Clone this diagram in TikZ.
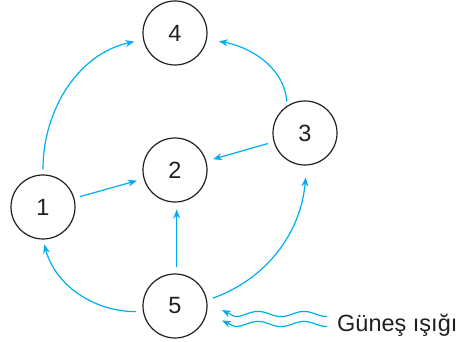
\documentclass[tikz,border=0pt]{standalone}
\usepackage{fontspec}
\setmainfont{Liberation Sans}
\usetikzlibrary{arrows.meta}
\definecolor{ray}{RGB}{0,174,239}
\definecolor{ink}{RGB}{35,31,32}
\begin{document}
\begin{tikzpicture}[x=1pt,y=1pt,
    state/.style={circle,draw=ink,line width=1.2pt,minimum size=64pt,inner sep=0pt,
      font=\fontsize{23.5}{28}\selectfont,text=ink},
    flow/.style={draw=ray,line width=1.2pt,-{Stealth[length=9pt,width=7pt]},
      shorten <=6pt,shorten >=7pt},
    wave/.style={draw=ray,line width=1.2pt,-{Stealth[length=9pt,width=7pt]}}]
    \useasboundingbox (0,0) rectangle (461,342);
    \foreach \n/\x/\y in {1/43/135,2/175/172,3/305/209,4/175/309,5/175/36}{
      \node [state] (n\n) at (\x,\y) {\n};
    }
    \draw [flow] (n1) -- (n2);
    \draw [flow] (n3) -- (n2);
    \draw [flow] (n5.87.3) -- (n2.-87.3);
    \draw [flow,shorten <=5pt,shorten >=9pt] (n1.90) to[out=90,in=192] (n4.192);
    \draw [flow,shorten <=4pt,shorten >=12pt] (n3.123) to[out=95,in=-10] (n4.-11);
    \draw [flow,shorten <=7pt,shorten >=5pt] (n5.190) to[out=180,in=-75] (n1.-90);
    \draw [flow,shorten <=6pt,shorten >=12pt] (n5.10) to[out=20,in=-95] (n3.-87);
    \coordinate (w1) at (327,28);
    \coordinate (w2) at (327,18);
    \coordinate (t1) at (222,32);
    \coordinate (t2) at (222,21.5);
    \foreach \w/\t in {w1/t1,w2/t2}{
      \draw [wave,shift={(\w)}] plot[domain=0:-92,samples=60,smooth]
        (\x,{-2.6*cos(360*\x/46)}) -- (\t);
    }
    \node [anchor=base west,inner sep=0pt,text=ink,font=\fontsize{23.5}{28}\selectfont]
      (sun) at (337,10) {Güneş ışığı};
\end{tikzpicture}
\end{document}
